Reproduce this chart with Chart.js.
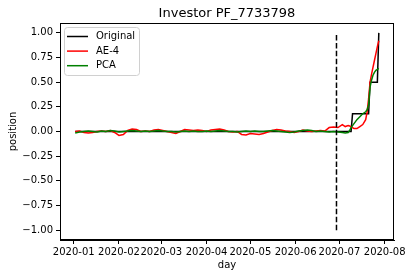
<!DOCTYPE html>
<html>
<head>
<meta charset="utf-8">
<script src="https://cdn.jsdelivr.net/npm/chart.js@4"></script>
<style>
  html, body { margin: 0; padding: 0; background: #fff; }
  #wrap { width: 412px; height: 278px; }
</style>
</head>
<body>
<div id="wrap"><canvas id="positionChart" width="412" height="278"></canvas></div>
<script>
// days counted from 2020-01-01
const days = [1, 4, 7, 10, 13, 16, 19, 22, 25, 28, 31, 34, 37, 40, 43, 46, 49, 52, 55, 58,
  61, 64, 67, 70, 73, 76, 79, 82, 85, 88, 91, 94, 97, 100, 103, 106, 109, 112, 115, 118,
  121, 124, 127, 130, 133, 136, 139, 142, 145, 148, 151, 154, 157, 160, 163, 166, 169, 172, 175, 178,
  181, 184, 186, 188, 189, 190, 191, 192, 194, 196, 198, 200, 201, 202, 203, 204, 205, 206, 207, 208, 209];

const ae4 = [0.0, 0.005, -0.01, -0.015, -0.01, 0.0, 0.005, 0.0, 0.01, -0.01,
  -0.04, -0.03, 0.01, 0.025, 0.02, 0.0, 0.005, 0.0, 0.015, 0.02,
  0.01, 0.0, -0.01, -0.02, 0.0, 0.02, 0.015, 0.01, 0.015, 0.01,
  0.0, 0.015, 0.02, 0.025, 0.015, 0.0, -0.005, 0.0, -0.03, -0.035,
  -0.02, -0.025, -0.03, -0.02, -0.005, 0.01, 0.02, 0.015, 0.005, 0.0,
  -0.01, 0.0, 0.015, 0.005, 0.0, 0.005, 0.01, 0.005, 0.04, 0.045,
  0.04, 0.07, 0.05, 0.06, 0.055, 0.05, 0.04, 0.03, 0.03, 0.05,
  0.07, 0.12, 0.2, 0.33, 0.5, 0.58, 0.65, 0.72, 0.79, 0.86, 0.92];

const pca = [-0.015, -0.005, 0.0, 0.005, 0.0, -0.005, 0.005, 0.0, 0.01, 0.005,
  -0.005, 0.0, 0.005, 0.01, 0.005, 0.0, 0.005, 0.0, 0.005, 0.01,
  0.005, 0.0, 0.0, -0.005, 0.0, 0.005, 0.0, 0.005, 0.0, 0.0,
  0.005, 0.0, 0.005, 0.01, 0.005, 0.0, 0.0, -0.005, 0.0, 0.005,
  0.0, 0.005, 0.0, 0.0, 0.005, 0.01, 0.005, 0.0, -0.005, -0.01,
  -0.005, 0.005, 0.01, 0.015, 0.01, 0.0, 0.005, 0.0, -0.005, 0.0,
  -0.005, -0.01, -0.015, -0.01, 0.01, 0.04, 0.06, 0.08, 0.12, 0.15,
  0.18, 0.2, 0.22, 0.27, 0.45, 0.52, 0.57, 0.6, 0.62, 0.63, 0.64];

// original position is a step series, only its corners are listed
const originalDays = [1, 190, 191, 202, 203, 208, 209];
const original = [0, 0, 0.18, 0.18, 0.5, 0.5, 1.0];

// vertical split marker
const cutoffDay = 180;
const cutoffRange = [-1, 1];

const xTickDays = [0, 31, 60, 91, 121, 152, 182, 213];
const xTickLabels = ['2020-01', '2020-02', '2020-03', '2020-04', '2020-05', '2020-06', '2020-07', '2020-08'];
const yTicks = [-1, -0.75, -0.5, -0.25, 0, 0.25, 0.5, 0.75, 1];

const chartTitle = 'Investor PF_7733798';
const FONT = 'DejaVu Sans';

const toPoints = (xs, ys) => xs.map((x, i) => ({ x: x, y: ys[i] }));

const frame = {
    id: 'frame',
    afterDatasetsDraw(chart) {
        const { ctx, chartArea: a } = chart;
        ctx.save();
        ctx.strokeStyle = '#000';
        ctx.lineWidth = 1;
        ctx.strokeRect(Math.round(a.left) + 0.5, Math.round(a.top) + 0.5,
            Math.round(a.right - a.left) - 1, Math.round(a.bottom - a.top) - 1);
        ctx.restore();
    }
};

// title centred over the plot area, not the whole canvas
const axesTitle = {
    id: 'axesTitle',
    afterDraw(chart) {
        const { ctx, chartArea: a } = chart;
        ctx.save();
        ctx.font = '13px "' + FONT + '"';
        ctx.fillStyle = '#000';
        ctx.textAlign = 'center';
        ctx.textBaseline = 'alphabetic';
        ctx.fillText(chartTitle, (a.left + a.right) / 2, 17);
        ctx.restore();
    }
};

const boxLegend = {
    id: 'boxLegend',
    afterDraw(chart) {
        const { ctx, chartArea: a } = chart;
        const items = chart.data.datasets.filter(d => d.label);
        const x = a.left + 4, y = a.top + 4, w = 75, h = 48, r = 3;
        ctx.save();
        ctx.beginPath();
        ctx.roundRect(x + 0.5, y + 0.5, w, h, r);
        ctx.fillStyle = 'rgba(255,255,255,0.8)';
        ctx.fill();
        ctx.strokeStyle = '#d0d0d0';
        ctx.lineWidth = 1;
        ctx.stroke();
        ctx.font = '10px "' + FONT + '"';
        ctx.textBaseline = 'middle';
        items.forEach((d, i) => {
            const ly = y + 9.5 + i * 14.6;
            ctx.beginPath();
            ctx.moveTo(x + 3, ly);
            ctx.lineTo(x + 24, ly);
            ctx.strokeStyle = d.borderColor;
            ctx.lineWidth = 1.5;
            ctx.stroke();
            ctx.fillStyle = '#000';
            ctx.fillText(d.label, x + 32, ly);
        });
        ctx.restore();
    }
};

const ctx = document.getElementById('positionChart').getContext('2d');

new Chart(ctx, {
    type: 'line',
    data: {
        datasets: [
            {
                label: 'Original',
                data: toPoints(originalDays, original),
                borderColor: '#000000',
                borderWidth: 1.5,
                order: 3
            },
            {
                label: 'AE-4',
                data: toPoints(days, ae4),
                borderColor: '#ff0000',
                borderWidth: 1.5,
                order: 2
            },
            {
                label: 'PCA',
                data: toPoints(days, pca),
                borderColor: '#008000',
                borderWidth: 1.5,
                order: 1
            },
            {
                data: cutoffRange.map(v => ({ x: cutoffDay, y: v })),
                borderColor: '#000000',
                borderWidth: 1.5,
                borderDash: [5.5, 2.4],
                order: 0
            }
        ]
    },
    options: {
        responsive: false,
        animation: false,
        devicePixelRatio: 1,
        elements: {
            point: { radius: 0 },
            line: { tension: 0, fill: false }
        },
        layout: {
            padding: { left: 0, right: 18, top: 23, bottom: 0 }
        },
        plugins: {
            legend: { display: false },
            tooltip: { enabled: false },
            title: { display: false }
        },
        scales: {
            x: {
                type: 'linear',
                min: -9.4,
                max: 219.4,
                afterFit(scale) { scale.height = 38; },
                afterBuildTicks(scale) { scale.ticks = xTickDays.map(v => ({ value: v })); },
                ticks: {
                    color: '#000',
                    font: { family: FONT, size: 10 },
                    padding: 2,
                    maxRotation: 0,
                    autoSkip: false,
                    callback: (v) => xTickLabels[xTickDays.indexOf(v)]
                },
                grid: {
                    display: true,
                    drawOnChartArea: false,
                    drawTicks: true,
                    tickLength: 4,
                    color: '#000'
                },
                border: { display: true, color: '#000' },
                title: {
                    display: true,
                    text: 'day',
                    color: '#000',
                    font: { family: FONT, size: 10 },
                    padding: { top: 0, bottom: 7 }
                }
            },
            y: {
                min: -1.1,
                max: 1.1,
                afterFit(scale) { scale.width = 60; },
                afterBuildTicks(scale) { scale.ticks = yTicks.map(v => ({ value: v })); },
                ticks: {
                    color: '#000',
                    font: { family: FONT, size: 10 },
                    padding: 3,
                    autoSkip: false,
                    callback: (v) => v.toFixed(2).replace('-', '\u2212')
                },
                grid: {
                    display: true,
                    drawOnChartArea: false,
                    drawTicks: true,
                    tickLength: 4,
                    color: '#000'
                },
                border: { display: true, color: '#000' },
                title: {
                    display: true,
                    text: 'position',
                    color: '#000',
                    font: { family: FONT, size: 10 },
                    padding: { top: 7, bottom: 0 }
                }
            }
        }
    },
    plugins: [frame, axesTitle, boxLegend]
});
</script>
</body>
</html>
